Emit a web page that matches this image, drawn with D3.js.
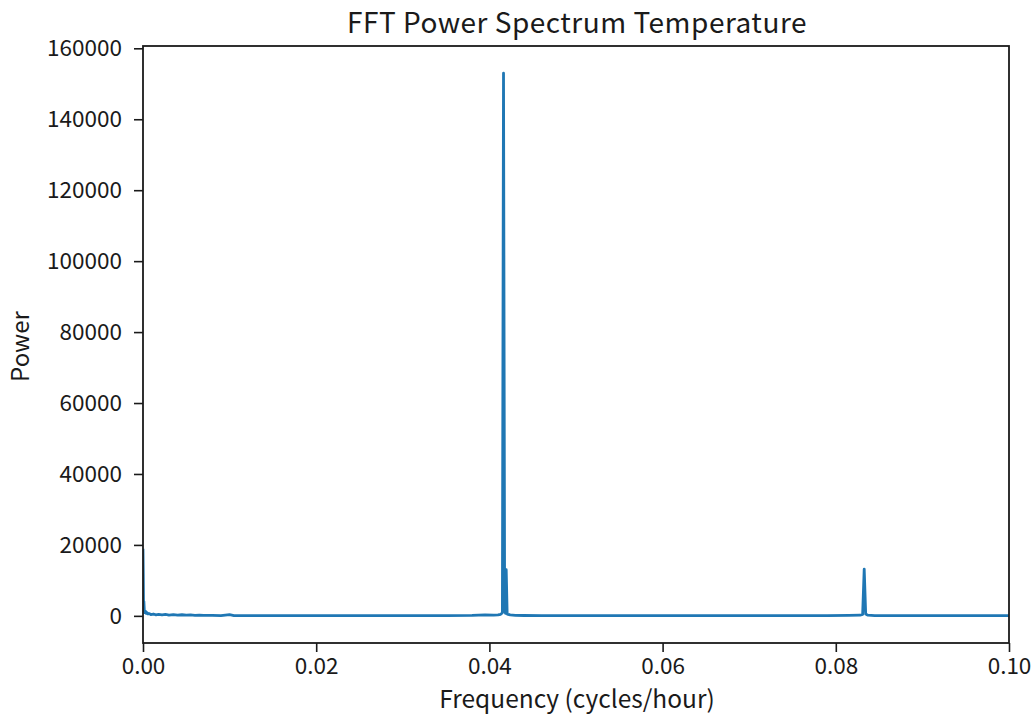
<!DOCTYPE html>
<html>
<head>
<meta charset="utf-8">
<script src="https://cdn.jsdelivr.net/npm/d3@7"></script>
<style>
  html, body { margin: 0; padding: 0; background: #ffffff; }
  svg text { font-family: "Noto Sans CJK SC", "Noto Sans", sans-serif; fill: #1a1a1a; }
</style>
</head>
<body>
<svg id="chart" width="1036" height="714"></svg>
<script>
// Power spectrum samples: frequency (cycles/hour) and power
const frequency = [
  0.00000, 0.00003, 0.00006, 0.00010, 0.00015, 0.00020, 0.00028, 0.00036, 0.00045, 0.00055,
  0.00070, 0.00090, 0.00120, 0.00150, 0.00180, 0.00220, 0.00260, 0.00300, 0.00350, 0.00400,
  0.00450, 0.00500, 0.00550, 0.00600, 0.00650, 0.00700, 0.00800, 0.00900, 0.01000, 0.01050,
  0.01200, 0.01400, 0.01600, 0.01800, 0.02000, 0.02300, 0.02600, 0.02900, 0.03200, 0.03500,
  0.03800, 0.03950, 0.04050, 0.04100, 0.04130, 0.04150, 0.04163, 0.04176, 0.04186, 0.04194,
  0.04205, 0.04240, 0.04300, 0.04400, 0.04600, 0.04900, 0.05200, 0.05500, 0.05800, 0.06100,
  0.06400, 0.06700, 0.07000, 0.07300, 0.07600, 0.07900, 0.08150, 0.08280, 0.08310, 0.08328,
  0.08345, 0.08370, 0.08450, 0.08700, 0.09000, 0.09300, 0.09600, 0.09900, 0.10200
];
const power = [
  18500, 12000, 3200, 4100, 1600, 900, 1300, 700, 950, 550,
  650, 380, 520, 300, 430, 260, 390, 210, 360, 190,
  310, 230, 290, 160, 210, 130, 110, 90, 320, 90,
  80, 70, 75, 60, 65, 60, 55, 60, 70, 80,
  120, 300, 180, 260, 420, 900, 153000, 1500, 700, 13000,
  500, 260, 150, 100, 80, 70, 60, 60, 55, 55,
  50, 55, 50, 50, 55, 60, 110, 180, 420, 13200,
  500, 200, 90, 60, 50, 50, 45, 45, 45
];
const xTicks = [0.00, 0.02, 0.04, 0.06, 0.08, 0.10];
const yTicks = [0, 20000, 40000, 60000, 80000, 100000, 120000, 140000, 160000];

const titleText = "FFT Power Spectrum Temperature";
const xLabel = "Frequency (cycles/hour)";
const yLabel = "Power";

const svg = d3.select("#chart");
const margin = { left: 143, right: 1036 - 1009, top: 46, bottom: 714 - 643 };
const plotW = 1036 - margin.left - margin.right;
const plotH = 714 - margin.top - margin.bottom;

// y domain padded by 5% of the data span, x fixed to 0–0.1
const pMax = d3.max(power), pMin = 0;
const pad = (pMax - pMin) * 0.05;
const x = d3.scaleLinear().domain([0, 0.1]).range([0, plotW]);
const y = d3.scaleLinear().domain([pMin - pad, pMax + pad]).range([plotH, 0]);

const g = svg.append("g").attr("transform", `translate(${margin.left},${margin.top})`);

g.append("clipPath").attr("id", "plot-clip")
  .append("rect").attr("width", plotW).attr("height", plotH);

const points = frequency.map((f, i) => [f, power[i]]);
const line = d3.line().x(d => x(d[0])).y(d => y(d[1]));

g.append("path")
  .datum(points)
  .attr("clip-path", "url(#plot-clip)")
  .attr("fill", "none")
  .attr("stroke", "#1f77b4")
  .attr("stroke-width", 2.8)
  .attr("stroke-linejoin", "round")
  .attr("stroke-linecap", "square")
  .attr("d", line);

// Axes
const xAxis = d3.axisBottom(x).tickValues(xTicks).tickFormat(d3.format(".2f")).tickSizeOuter(0).tickSize(9).tickPadding(6);
const yAxis = d3.axisLeft(y).tickValues(yTicks).tickFormat(d3.format("d")).tickSizeOuter(0).tickSize(9).tickPadding(12);

const gx = g.append("g").attr("transform", `translate(0,${plotH})`).call(xAxis);
const gy = g.append("g").call(yAxis);
[gx, gy].forEach(a => {
  a.select(".domain").remove();
  a.selectAll(".tick line").attr("stroke", "#1a1a1a").attr("stroke-width", 1.6);
  a.selectAll(".tick text").style("font-size", "22.5px").attr("fill", "#1a1a1a");
});

// Frame
g.append("rect")
  .attr("width", plotW).attr("height", plotH)
  .attr("fill", "none").attr("stroke", "#1a1a1a").attr("stroke-width", 1.8);

// Titles
svg.append("text")
  .attr("x", margin.left + plotW / 2 + 1).attr("y", 33)
  .attr("text-anchor", "middle").style("font-size", "28px")
  .style("letter-spacing", "0.5px")
  .text(titleText);

svg.append("text")
  .attr("x", margin.left + plotW / 2 + 1).attr("y", 708)
  .attr("text-anchor", "middle").style("font-size", "24.5px")
  .text(xLabel);

svg.append("text")
  .attr("transform", `translate(29,${margin.top + plotH / 2 + 2}) rotate(-90)`)
  .attr("text-anchor", "middle").style("font-size", "24px")
  .text(yLabel);
</script>
</body>
</html>
